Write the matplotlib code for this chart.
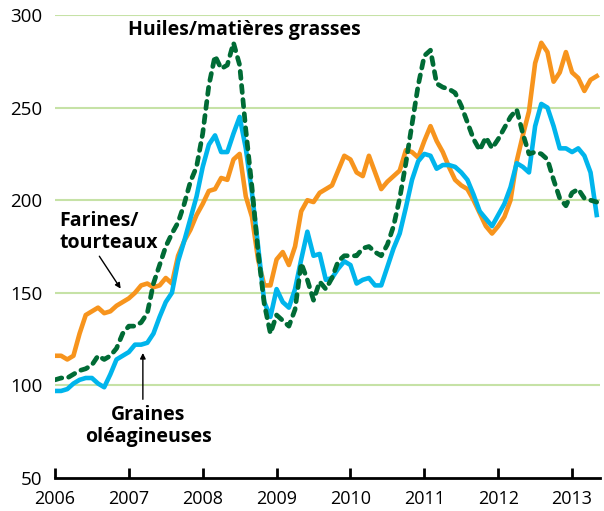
import matplotlib
matplotlib.use("Agg")
import matplotlib.pyplot as plt
import numpy as np

plt.rcParams['font.family'] = ['Open Sans', 'DejaVu Sans']

# monthly indices, Jan 2006 - May 2013
farines = [116, 116, 114, 116, 128, 138, 140, 142, 139, 140, 143, 145,
           147, 150, 154, 155, 153, 154, 158, 155, 170, 178, 184, 192,
           198, 205, 206, 212, 211, 222, 225, 202, 191, 168, 154, 154,
           168, 172, 165, 175, 194, 200, 199, 204, 206, 208, 216, 224,
           222, 215, 213, 224, 215, 206, 210, 213, 216, 227, 226, 223,
           232, 240, 232, 226, 218, 211, 208, 206, 200, 193, 186, 182,
           186, 191, 200, 221, 235, 248, 274, 285, 280, 264, 269, 280,
           269, 266, 259, 265, 267]

graines = [97, 97, 98, 101, 103, 104, 104, 101, 99, 106, 114, 116,
           118, 122, 122, 123, 128, 137, 145, 150, 167, 178, 190, 202,
           218, 230, 235, 226, 226, 236, 245, 228, 204, 175, 145, 137,
           152, 145, 142, 152, 168, 183, 170, 171, 157, 158, 163, 167,
           165, 155, 157, 158, 154, 154, 164, 174, 182, 196, 211, 221,
           225, 224, 217, 219, 219, 218, 215, 211, 203, 194, 190, 186,
           192, 198, 207, 220, 218, 215, 240, 252, 250, 240, 228, 228,
           226, 228, 224, 215, 192]

huiles = [103, 104, 104, 106, 108, 109, 111, 116, 114, 116, 120, 128,
          132, 132, 134, 139, 155, 165, 175, 182, 188, 198, 210, 218,
          236, 262, 278, 271, 273, 285, 273, 238, 207, 172, 144, 128,
          138, 135, 132, 141, 166, 157, 146, 156, 152, 158, 167, 170,
          170, 170, 174, 175, 172, 170, 176, 186, 201, 220, 241, 262,
          278, 281, 263, 261, 260, 258, 251, 242, 233, 227, 234, 228,
          233, 239, 245, 249, 236, 225, 226, 225, 222, 211, 201, 197,
          204, 206, 201, 200, 199]

years = [2006, 2007, 2008, 2009, 2010, 2011, 2012, 2013]
yticks = [50, 100, 150, 200, 250, 300]

x = 2006 + np.arange(len(farines)) / 12.0

fig = plt.figure(figsize=(6.04, 5.11), dpi=100)
ax = fig.add_axes([0.091, 0.0646, 0.902, 0.906])

for v in yticks[1:]:
    ax.axhline(v, color='#c6e2a6', lw=1.5, zorder=0)

ax.plot(x, farines, color='#f7941d', lw=3.3, solid_joinstyle='round', zorder=2)
ax.plot(x, graines, color='#00b5ec', lw=3.3, solid_joinstyle='round', zorder=3)
ax.plot(x, huiles, color='#006b35', lw=3.4, linestyle=(0, (1.5, 1.5)),
        dash_capstyle='round', zorder=4)

ax.set_xlim(2006, 2013.375)
ax.set_ylim(50, 300)
for s in ['top', 'right', 'left']:
    ax.spines[s].set_visible(False)
ax.spines['bottom'].set_linewidth(2)
ax.set_xticks(years)
ax.set_xticklabels([str(y) for y in years])
ax.set_yticks(yticks)
ax.tick_params(axis='x', direction='in', length=7, width=2, pad=9, labelsize=13)
ax.tick_params(axis='y', length=0, pad=9, labelsize=13.5)

ax.text(2008.57, 292, 'Huiles/matières grasses', fontsize=14, fontweight='bold',
        ha='center', va='center')
ax.text(2006.06, 183, 'Farines/\ntourteaux', fontsize=14, fontweight='bold',
        ha='left', va='center', linespacing=1.15)
ax.text(2007.26, 78, 'Graines\noléagineuses', fontsize=14, fontweight='bold',
        ha='center', va='center', linespacing=1.15)

ax.annotate('', xy=(2006.91, 151), xytext=(2006.58, 171),
            arrowprops=dict(arrowstyle='-|>', color='black', lw=1, mutation_scale=8))
ax.annotate('', xy=(2007.19, 119), xytext=(2007.19, 91),
            arrowprops=dict(arrowstyle='-|>', color='black', lw=1, mutation_scale=8))

fig.savefig('out.png', dpi=100)
